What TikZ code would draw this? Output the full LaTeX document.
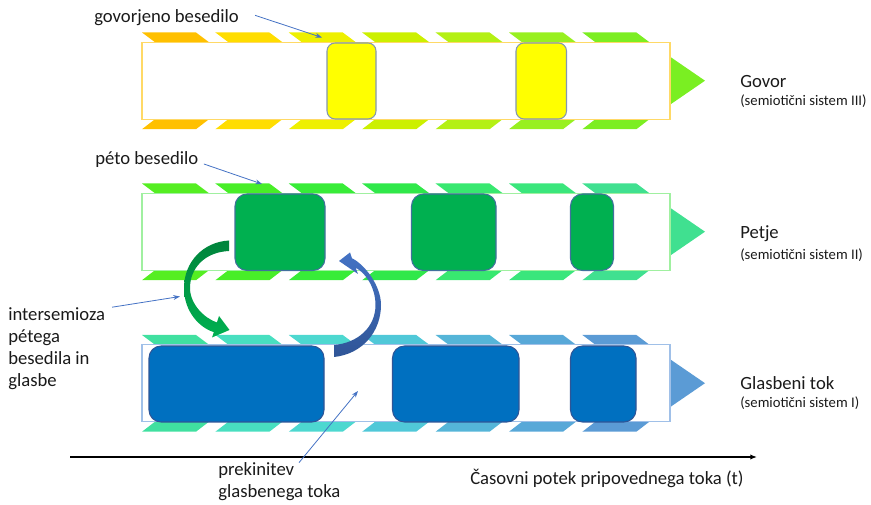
\documentclass[tikz,border=0pt]{standalone}
\usepackage{fontspec}
\setmainfont{Carlito}
\usetikzlibrary{arrows.meta,calc}

% stripe colours, lane by lane
\definecolor{ya1}{HTML}{FFC000}\definecolor{ya2}{HTML}{FFDD00}\definecolor{ya3}{HTML}{EEF000}
\definecolor{ya4}{HTML}{CCF000}\definecolor{ya5}{HTML}{B4F014}\definecolor{ya6}{HTML}{98F020}
\definecolor{ya7}{HTML}{7CEE22}\definecolor{yatri}{HTML}{7AEF22}
\definecolor{gb1}{HTML}{55EE22}\definecolor{gb2}{HTML}{48EE28}\definecolor{gb3}{HTML}{38EC38}
\definecolor{gb4}{HTML}{30E84A}\definecolor{gb5}{HTML}{38E870}\definecolor{gb6}{HTML}{3AE67C}
\definecolor{gb7}{HTML}{40E090}\definecolor{gbtri}{HTML}{40E090}
\definecolor{bc1}{HTML}{40E0A0}\definecolor{bc2}{HTML}{48DFC0}\definecolor{bc3}{HTML}{4DD8D0}
\definecolor{bc4}{HTML}{50C8D8}\definecolor{bc5}{HTML}{55B5D8}\definecolor{bc6}{HTML}{58A8D8}
\definecolor{bc7}{HTML}{5B9BD5}\definecolor{bctri}{HTML}{5B9BD5}
% frames, boxes, arrows, text
\definecolor{frameA}{HTML}{FFD966}\definecolor{frameB}{HTML}{A0F0A0}\definecolor{frameC}{HTML}{A0C0E8}
\definecolor{boxY}{HTML}{FFFF00}\definecolor{boxYedge}{HTML}{8497B0}
\definecolor{boxG}{HTML}{00B050}\definecolor{boxGedge}{HTML}{41719C}
\definecolor{boxB}{HTML}{0070C0}\definecolor{boxBedge}{HTML}{2F5597}
\definecolor{noteblue}{HTML}{4472C4}
\definecolor{arrGtop}{HTML}{00843C}\definecolor{arrGbot}{HTML}{00B050}
\definecolor{arrBtop}{HTML}{4472C4}\definecolor{arrBbot}{HTML}{2F5597}
\definecolor{txt}{HTML}{1A1A1A}

% one lane: chevron stripes above and below, white band, arrow tip
\newcommand\laneRow[3]{% #1 top y, #2 colour prefix, #3 frame colour
  \foreach \i in {1,...,7}{
    \pgfmathsetmacro\xo{142+73.4*(\i-1)}
    \edef\cname{#2\i}
    \fill[fill=\cname] (\xo,#1) -- ++(54,0) -- ++(13,9.7) -- ++(-54,0) -- cycle;
    \fill[fill=\cname] (\xo+13,#1+86.7) -- ++(54,0) -- ++(-13,10) -- ++(-54,0) -- cycle;
  }
  \fill[fill=#2tri] (670,#1+24.2) -- (705,#1+48.2) -- (670,#1+72.2) -- cycle;
  \filldraw[fill=white,draw=#3,line width=0.8pt] (142,#1+9.7) rectangle (670,#1+86.7);
}

\tikzset{
  lbltext/.style={inner sep=0pt, anchor=west, text=txt, align=left,
                  font=\fontsize{14}{16.5}\selectfont},
  sublbl/.style={inner sep=0pt, anchor=west, text=txt, font=\fontsize{11}{13}\selectfont},
  note/.style={draw=noteblue, line width=0.6pt, -{Stealth[length=5pt,width=3.6pt]}},
  yelbox/.style={fill=boxY, draw=boxYedge, line width=0.8pt, rounded corners=6pt},
  grnbox/.style={fill=boxG, draw=boxGedge, line width=0.8pt, rounded corners=9pt},
  blubox/.style={fill=boxB, draw=boxBedge, line width=0.8pt, rounded corners=9pt},
}

\begin{document}
\begin{tikzpicture}[x=0.75pt,y=-0.75pt]
\useasboundingbox (0,0) rectangle (871,505);

% lanes
\laneRow{32.5}{ya}{frameA}
\laneRow{183.5}{gb}{frameB}
\laneRow{335}{bc}{frameC}

% spoken text
\draw[yelbox] (327,43) rectangle (376,119);
\draw[yelbox] (516,43) rectangle (566.5,119);
% sung text
\draw[grnbox] (235,194) rectangle (325,270.5);
\draw[grnbox] (411.5,194) rectangle (496,270.5);
\draw[grnbox] (570.5,194) rectangle (613.5,270.5);
% music
\draw[blubox] (149,346) rectangle (324,422);
\draw[blubox] (392.5,346) rectangle (519,422);
\draw[blubox] (570.5,346) rectangle (636,422);

% curved arrow: sung text into music
\shade[top color=arrGtop, bottom color=arrGbot]
  (229,240.5) .. controls (203,242) and (184,262) .. (184,288)
  .. controls (184,312) and (200,328) .. (213.8,332.1)
  -- (212,337.5) -- (229.5,330) -- (219,316) -- (216.9,322.5)
  .. controls (204,318) and (190,304) .. (190,288)
  .. controls (190,268) and (205,252) .. (229,251) -- cycle;
% curved arrow: music back into sung text
\shade[top color=arrBtop, bottom color=arrBbot]
  (334,357) .. controls (363,354) and (381,331) .. (381,305)
  .. controls (381,285) and (364,264) .. (352,258.3)
  -- (350,252.5) -- (339,261) -- (358,274) -- (355.6,267.7)
  .. controls (366,273) and (375.5,288) .. (375.5,305)
  .. controls (375.5,327) and (358,343) .. (334,345) -- cycle;

% time axis
\coordinate (axisL) at (70,457);
\coordinate (axisR) at (757,457);
\draw[line width=1pt, -{Latex[length=5pt,width=4pt]}] (axisL) -- (axisR);

% texts
\node[lbltext] (lblGov) at (94,18) {govorjeno besedilo};
\node[lbltext] (lblPeto) at (95,160) {péto besedilo};
\node[lbltext] (lblInter) at (8,348.5) {intersemioza\\pétega\\besedila in\\glasbe};
\node[lbltext] (lblPrek) at (218,482) {prekinitev\\glasbenega toka};
\node[lbltext] (lblTime) at (470,478) {Časovni potek pripovednega toka (t)};

\node[lbltext] (laneA) at (740,82) {Govor};
\node[sublbl] (laneAsub) at (740,101.5) {(semiotični sistem III)};
\node[lbltext] (laneB) at (740,234) {Petje};
\node[sublbl] (laneBsub) at (740,255) {(semiotični sistem II)};
\node[lbltext] (laneC) at (740,383.3) {Glasbeni tok};
\node[sublbl] (laneCsub) at (740,403.5) {(semiotični sistem I)};

% pointers from the notes
\coordinate (tipGov) at (322,37.5);
\coordinate (tipPeto) at (262,184);
\coordinate (tipInter) at (180,296.5);
\coordinate (tipPrek) at (358,391);
\draw[note] ([shift={(12pt,2pt)}]lblGov.east) -- (tipGov);
\draw[note] ([shift={(4pt,-3pt)}]lblPeto.east) -- (tipPeto);
\draw[note] ([xshift=5pt]lblInter.north east) -- (tipInter);
\draw[note] ([xshift=60.75pt]lblPrek.north west) -- (tipPrek);
\end{tikzpicture}
\end{document}
